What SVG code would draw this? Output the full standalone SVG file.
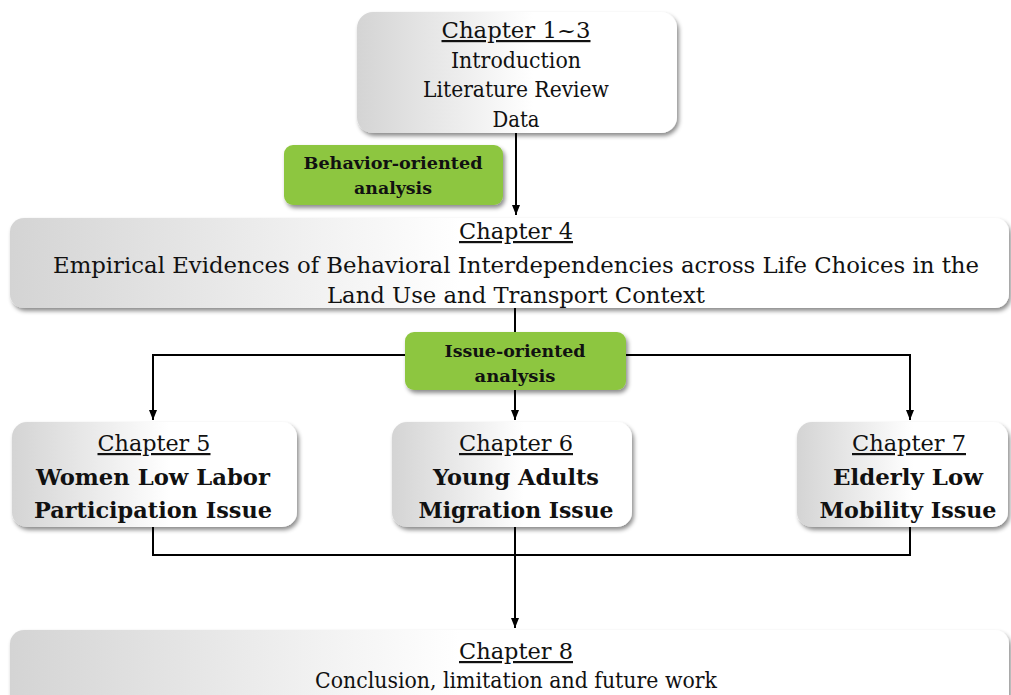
<svg xmlns="http://www.w3.org/2000/svg" width="1011" height="695" viewBox="0 0 1011 695">
  <defs>
    <linearGradient id="grayFade" x1="0" y1="0" x2="1" y2="0">
      <stop offset="0" stop-color="#d4d4d4"/>
      <stop offset="0.55" stop-color="#ffffff"/>
      <stop offset="1" stop-color="#ffffff"/>
    </linearGradient>
    <linearGradient id="grayFadeWide" x1="0" y1="0" x2="1" y2="0">
      <stop offset="0" stop-color="#d4d4d4"/>
      <stop offset="0.45" stop-color="#ffffff"/>
      <stop offset="1" stop-color="#ffffff"/>
    </linearGradient>
    <filter id="shadow" x="-5%" y="-10%" width="115%" height="130%">
      <feDropShadow dx="2" dy="3" stdDeviation="2" flood-color="#000" flood-opacity="0.45"/>
    </filter>
    <marker id="arrow" viewBox="0 0 10 10" refX="10" refY="5" markerWidth="10" markerHeight="10" markerUnits="userSpaceOnUse" orient="auto">
      <path d="M0,1 L10,5 L0,9 Z" fill="#000"/>
    </marker>
  </defs>
  <style>
    .box { fill: url(#grayFade); filter: url(#shadow); }
    .wide { fill: url(#grayFadeWide); filter: url(#shadow); }
    .tag { fill: #8dc63f; filter: url(#shadow); }
    .t { font-family: "DejaVu Serif", "Liberation Serif", serif; font-size: 22px; fill: #111; text-anchor: middle; }
    .u { text-decoration: underline; }
    .b { font-weight: bold; font-size: 23px; }
    .g { font-weight: bold; font-size: 16px; }
    .wire { stroke: #000; stroke-width: 2; fill: none; }
  </style>

  <!-- connectors -->
  <g id="connectors">
    <line class="wire" x1="516" y1="133" x2="516" y2="215" marker-end="url(#arrow)"/>
    <line class="wire" x1="515" y1="308" x2="515" y2="420" marker-end="url(#arrow)"/>
    <polyline class="wire" points="405,355 153,355 153,420" marker-end="url(#arrow)"/>
    <polyline class="wire" points="626,355 910,355 910,420" marker-end="url(#arrow)"/>
    <polyline class="wire" points="153,527 153,555 910,555 910,527"/>
    <line class="wire" x1="515" y1="527" x2="515" y2="628" marker-end="url(#arrow)"/>
  </g>

  <g id="ch1to3">
    <rect class="box" x="357" y="12" width="320" height="121" rx="16"/>
    <text class="t u" x="516" y="38" textLength="149" lengthAdjust="spacingAndGlyphs">Chapter 1~3</text>
    <text class="t" x="516" y="68" textLength="130" lengthAdjust="spacingAndGlyphs">Introduction</text>
    <text class="t" x="516" y="97" textLength="186" lengthAdjust="spacingAndGlyphs">Literature Review</text>
    <text class="t" x="516" y="127" textLength="47" lengthAdjust="spacingAndGlyphs">Data</text>
  </g>

  <g id="behavior-tag">
    <rect class="tag" x="284" y="145" width="219" height="60" rx="9"/>
    <text class="t g" x="393" y="169" textLength="179" lengthAdjust="spacingAndGlyphs">Behavior-oriented</text>
    <text class="t g" x="393" y="194" textLength="78" lengthAdjust="spacingAndGlyphs">analysis</text>
  </g>

  <g id="ch4">
    <rect class="wide" x="10" y="218" width="999" height="90" rx="14"/>
    <text class="t u" x="516" y="239" textLength="114" lengthAdjust="spacingAndGlyphs">Chapter 4</text>
    <text class="t" x="516" y="273" textLength="926" lengthAdjust="spacingAndGlyphs">Empirical Evidences of Behavioral Interdependencies across Life Choices in the</text>
    <text class="t" x="516" y="303" textLength="378" lengthAdjust="spacingAndGlyphs">Land Use and Transport Context</text>
  </g>

  <g id="issue-tag">
    <rect class="tag" x="405" y="332" width="221" height="58" rx="9"/>
    <text class="t g" x="515" y="357" textLength="141" lengthAdjust="spacingAndGlyphs">Issue-oriented</text>
    <text class="t g" x="515" y="382" textLength="81" lengthAdjust="spacingAndGlyphs">analysis</text>
  </g>

  <g id="ch5">
    <rect class="box" x="12" y="422" width="285" height="105" rx="15"/>
    <text class="t u" x="154" y="451" textLength="113" lengthAdjust="spacingAndGlyphs">Chapter 5</text>
    <text class="t b" x="153" y="485" textLength="234" lengthAdjust="spacingAndGlyphs">Women Low Labor</text>
    <text class="t b" x="153" y="518" textLength="238" lengthAdjust="spacingAndGlyphs">Participation Issue</text>
  </g>

  <g id="ch6">
    <rect class="box" x="392" y="422" width="240" height="105" rx="15"/>
    <text class="t u" x="516" y="451" textLength="114" lengthAdjust="spacingAndGlyphs">Chapter 6</text>
    <text class="t b" x="516" y="485" textLength="166" lengthAdjust="spacingAndGlyphs">Young Adults</text>
    <text class="t b" x="516" y="518" textLength="195" lengthAdjust="spacingAndGlyphs">Migration Issue</text>
  </g>

  <g id="ch7">
    <rect class="box" x="797" y="422" width="211" height="105" rx="15"/>
    <text class="t u" x="909" y="451" textLength="114" lengthAdjust="spacingAndGlyphs">Chapter 7</text>
    <text class="t b" x="908" y="485" textLength="150" lengthAdjust="spacingAndGlyphs">Elderly Low</text>
    <text class="t b" x="908" y="518" textLength="177" lengthAdjust="spacingAndGlyphs">Mobility Issue</text>
  </g>

  <g id="ch8">
    <rect class="wide" x="10" y="630" width="999" height="80" rx="14"/>
    <text class="t u" x="516" y="659" textLength="114" lengthAdjust="spacingAndGlyphs">Chapter 8</text>
    <text class="t" x="516" y="688" font-size="20" textLength="402" lengthAdjust="spacingAndGlyphs">Conclusion, limitation and future work</text>
  </g>
</svg>
